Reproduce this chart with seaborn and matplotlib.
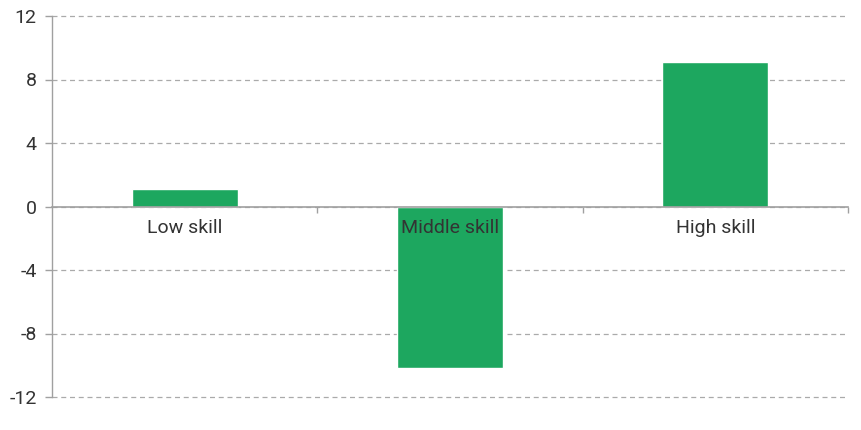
import matplotlib
matplotlib.use("Agg")
import matplotlib.pyplot as plt
import seaborn as sns

# data
categories = ["Low skill", "Middle skill", "High skill"]
values = [1.1, -10.2, 9.1]
y_ticks = [-12, -8, -4, 0, 4, 8, 12]

bar_color = "#1DA75F"
grid_color = "#AAAAAA"
axis_color = "#A0A0A0"
text_color = "#333333"

sns.set_style("white")
plt.rcParams["font.family"] = ["Roboto", "DejaVu Sans"]

fig = plt.figure(figsize=(8.61, 4.30), dpi=100)
ax = fig.add_axes([52 / 861, 33 / 430, 796 / 861, 381 / 430])

sns.barplot(x=categories, y=values, color=bar_color, width=0.4,
            saturation=1, ax=ax, zorder=3)

ax.set_ylim(-12, 12)
ax.set_xlim(-0.5, len(categories) - 0.5)
ax.set_yticks(y_ticks)
ax.set_yticklabels([str(t) for t in y_ticks], fontsize=14, color=text_color)
ax.tick_params(axis="y", length=5, width=1, color=axis_color, pad=6, left=True)

# dashed horizontal grid
ax.yaxis.grid(True, linestyle=(0, (4, 3)), color=grid_color, linewidth=0.9)
ax.set_axisbelow(True)
for gl in ax.yaxis.get_gridlines():
    gl.set_clip_on(False)

# spines: left solid, bottom sits on zero
for side in ["top", "right"]:
    ax.spines[side].set_visible(False)
ax.spines["left"].set_color(axis_color)
ax.spines["left"].set_linewidth(1)
ax.spines["bottom"].set_position(("data", 0))
ax.spines["bottom"].set_color(axis_color)
ax.spines["bottom"].set_linewidth(1.2)
ax.spines["bottom"].set_zorder(4)

# small ticks at the category boundaries, labels placed under the zero line
centers = list(range(len(categories)))
ax.set_xticks([c + 0.5 for c in centers])
ax.set_xticklabels([])
ax.tick_params(axis="x", length=4, width=1, color=axis_color, bottom=True)
for c, name in zip(centers, categories):
    ax.text(c, -1.35, name, ha="center", va="center", fontsize=14,
            color=text_color, zorder=5)

ax.set_xlabel("")
ax.set_ylabel("")

fig.savefig("out.png", dpi=100)
